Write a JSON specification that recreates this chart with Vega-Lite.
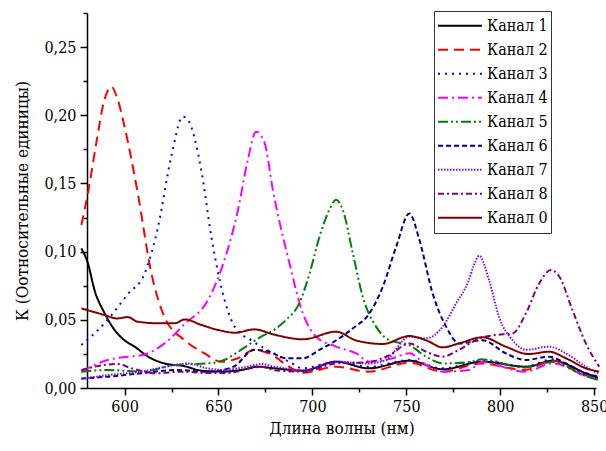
{
  "$schema": "https://vega.github.io/schema/vega-lite/v6.json",
  "width": 509,
  "height": 375,
  "autosize": {"type": "none"},
  "padding": {"left": 87, "top": 13, "right": 10, "bottom": 63},
  "background": "white",
  "config": {
    "view": {"stroke": null},
    "font": "DejaVu Serif Condensed, DejaVu Serif",
    "axis": {
      "domainColor": "black", "domainWidth": 1.5, "tickColor": "black", "tickWidth": 1.5,
      "labelFont": "DejaVu Serif Condensed, DejaVu Serif", "labelFontSize": 16, "labelColor": "black",
      "titleFont": "DejaVu Serif Condensed, DejaVu Serif", "titleFontSize": 17, "titleFontWeight": "normal", "titleColor": "black",
      "grid": false, "labelOverlap": false
    },
    "legend": {"labelFont": "DejaVu Serif Condensed, DejaVu Serif"}
  },
  "data": {"values": [
    {"s":"Канал 1","x":577,"y":0.1024},{"s":"Канал 1","x":580.5,"y":0.0914},{"s":"Канал 1","x":584,"y":0.0718},{"s":"Канал 1","x":589.4,"y":0.0548},{"s":"Канал 1","x":594.7,"y":0.0425},{"s":"Канал 1","x":600,"y":0.035},{"s":"Канал 1","x":605.4,"y":0.0303},{"s":"Канал 1","x":612.5,"y":0.023},{"s":"Канал 1","x":621.3,"y":0.018},{"s":"Канал 1","x":632,"y":0.016},{"s":"Канал 1","x":641,"y":0.0127},{"s":"Канал 1","x":651.5,"y":0.012},{"s":"Канал 1","x":662,"y":0.0132},{"s":"Канал 1","x":671,"y":0.0156},{"s":"Канал 1","x":680,"y":0.0144},{"s":"Канал 1","x":695,"y":0.0127},{"s":"Канал 1","x":712.7,"y":0.0193},{"s":"Канал 1","x":730,"y":0.0144},{"s":"Канал 1","x":751.6,"y":0.02},{"s":"Канал 1","x":769.4,"y":0.0137},{"s":"Канал 1","x":790.6,"y":0.0193},{"s":"Канал 1","x":813.7,"y":0.0156},{"s":"Канал 1","x":828,"y":0.02},{"s":"Канал 1","x":845.6,"y":0.0108},{"s":"Канал 1","x":852,"y":0.0075},
    {"s":"Канал 2","x":577,"y":0.1195},{"s":"Канал 2","x":580.5,"y":0.143},{"s":"Канал 2","x":585,"y":0.18},{"s":"Канал 2","x":589,"y":0.21},{"s":"Канал 2","x":593,"y":0.221},{"s":"Канал 2","x":596,"y":0.213},{"s":"Канал 2","x":600,"y":0.1916},{"s":"Канал 2","x":607,"y":0.143},{"s":"Канал 2","x":614.3,"y":0.084},{"s":"Канал 2","x":621.3,"y":0.052},{"s":"Канал 2","x":632,"y":0.035},{"s":"Канал 2","x":642.6,"y":0.0254},{"s":"Канал 2","x":651.5,"y":0.0193},{"s":"Канал 2","x":660.3,"y":0.0218},{"s":"Канал 2","x":669,"y":0.0279},{"s":"Канал 2","x":680,"y":0.023},{"s":"Канал 2","x":686,"y":0.017},{"s":"Канал 2","x":695,"y":0.0112},{"s":"Канал 2","x":712.7,"y":0.0156},{"s":"Канал 2","x":730,"y":0.012},{"s":"Канал 2","x":751.6,"y":0.0186},{"s":"Канал 2","x":769.4,"y":0.012},{"s":"Канал 2","x":790,"y":0.018},{"s":"Канал 2","x":813,"y":0.0132},{"s":"Канал 2","x":828,"y":0.02},{"s":"Канал 2","x":845,"y":0.0095},{"s":"Канал 2","x":852,"y":0.007},
    {"s":"Канал 3","x":577,"y":0.0315},{"s":"Канал 3","x":591,"y":0.05},{"s":"Канал 3","x":601.8,"y":0.069},{"s":"Канал 3","x":610.7,"y":0.084},{"s":"Канал 3","x":617.8,"y":0.118},{"s":"Канал 3","x":624.9,"y":0.17},{"s":"Канал 3","x":631,"y":0.199},{"s":"Канал 3","x":634,"y":0.196},{"s":"Канал 3","x":640.8,"y":0.16},{"s":"Канал 3","x":646.2,"y":0.111},{"s":"Канал 3","x":651.5,"y":0.074},{"s":"Канал 3","x":658.6,"y":0.045},{"s":"Канал 3","x":667.4,"y":0.035},{"s":"Канал 3","x":674.5,"y":0.029},{"s":"Канал 3","x":680,"y":0.025},{"s":"Канал 3","x":688,"y":0.019},{"s":"Канал 3","x":695,"y":0.0144},{"s":"Канал 3","x":712.7,"y":0.0193},{"s":"Канал 3","x":730,"y":0.0156},{"s":"Канал 3","x":751.6,"y":0.0205},{"s":"Канал 3","x":769,"y":0.0144},{"s":"Канал 3","x":791,"y":0.02},{"s":"Канал 3","x":813,"y":0.0156},{"s":"Канал 3","x":828,"y":0.021},{"s":"Канал 3","x":845,"y":0.01},{"s":"Канал 3","x":852,"y":0.007},
    {"s":"Канал 4","x":577,"y":0.012},{"s":"Канал 4","x":591,"y":0.0205},{"s":"Канал 4","x":601.8,"y":0.023},{"s":"Канал 4","x":609,"y":0.024},{"s":"Канал 4","x":621.3,"y":0.0327},{"s":"Канал 4","x":632,"y":0.047},{"s":"Канал 4","x":644.4,"y":0.0645},{"s":"Канал 4","x":653.2,"y":0.094},{"s":"Канал 4","x":660.3,"y":0.13},{"s":"Канал 4","x":665.6,"y":0.167},{"s":"Канал 4","x":670,"y":0.188},{"s":"Канал 4","x":674.5,"y":0.18},{"s":"Канал 4","x":679,"y":0.145},{"s":"Канал 4","x":687.8,"y":0.0914},{"s":"Канал 4","x":694.9,"y":0.0548},{"s":"Канал 4","x":702,"y":0.0376},{"s":"Канал 4","x":712.7,"y":0.0303},{"s":"Канал 4","x":723.3,"y":0.0254},{"s":"Канал 4","x":730.4,"y":0.0193},{"s":"Канал 4","x":742.8,"y":0.0218},{"s":"Канал 4","x":751.6,"y":0.0254},{"s":"Канал 4","x":760.5,"y":0.0169},{"s":"Канал 4","x":769.4,"y":0.012},{"s":"Канал 4","x":783.6,"y":0.0132},{"s":"Канал 4","x":790,"y":0.019},{"s":"Канал 4","x":813,"y":0.012},{"s":"Канал 4","x":828,"y":0.018},{"s":"Канал 4","x":845,"y":0.009},{"s":"Канал 4","x":852,"y":0.006},
    {"s":"Канал 5","x":577,"y":0.012},{"s":"Канал 5","x":591,"y":0.0132},{"s":"Канал 5","x":609,"y":0.012},{"s":"Канал 5","x":627,"y":0.0169},{"s":"Канал 5","x":644,"y":0.018},{"s":"Канал 5","x":653,"y":0.0205},{"s":"Канал 5","x":662,"y":0.028},{"s":"Канал 5","x":672.7,"y":0.0376},{"s":"Канал 5","x":680,"y":0.043},{"s":"Канал 5","x":686,"y":0.05},{"s":"Канал 5","x":693,"y":0.062},{"s":"Канал 5","x":698.5,"y":0.084},{"s":"Канал 5","x":703.8,"y":0.111},{"s":"Канал 5","x":709,"y":0.1305},{"s":"Канал 5","x":712.7,"y":0.138},{"s":"Канал 5","x":716.2,"y":0.1305},{"s":"Канал 5","x":721.5,"y":0.099},{"s":"Канал 5","x":726.8,"y":0.067},{"s":"Канал 5","x":733.9,"y":0.045},{"s":"Канал 5","x":741,"y":0.035},{"s":"Канал 5","x":751.6,"y":0.0315},{"s":"Канал 5","x":760.5,"y":0.023},{"s":"Канал 5","x":769.4,"y":0.018},{"s":"Канал 5","x":783.6,"y":0.019},{"s":"Канал 5","x":790,"y":0.021},{"s":"Канал 5","x":813,"y":0.015},{"s":"Канал 5","x":828,"y":0.019},{"s":"Канал 5","x":845,"y":0.009},{"s":"Канал 5","x":852,"y":0.006},
    {"s":"Канал 6","x":577,"y":0.007},{"s":"Канал 6","x":591,"y":0.0083},{"s":"Канал 6","x":609,"y":0.0108},{"s":"Канал 6","x":627,"y":0.0132},{"s":"Канал 6","x":644,"y":0.012},{"s":"Канал 6","x":658,"y":0.0156},{"s":"Канал 6","x":669,"y":0.028},{"s":"Канал 6","x":677,"y":0.0266},{"s":"Канал 6","x":686,"y":0.0218},{"s":"Канал 6","x":695,"y":0.0218},{"s":"Канал 6","x":703.8,"y":0.028},{"s":"Канал 6","x":712.7,"y":0.035},{"s":"Канал 6","x":721.5,"y":0.0437},{"s":"Канал 6","x":730.4,"y":0.0548},{"s":"Канал 6","x":737.5,"y":0.0743},{"s":"Канал 6","x":744.6,"y":0.1036},{"s":"Канал 6","x":751.6,"y":0.128},{"s":"Канал 6","x":757,"y":0.1085},{"s":"Канал 6","x":764,"y":0.0694},{"s":"Канал 6","x":771.2,"y":0.045},{"s":"Канал 6","x":778.2,"y":0.0327},{"s":"Канал 6","x":790.6,"y":0.035},{"s":"Канал 6","x":803,"y":0.0254},{"s":"Канал 6","x":813.7,"y":0.0205},{"s":"Канал 6","x":826,"y":0.023},{"s":"Канал 6","x":835,"y":0.018},{"s":"Канал 6","x":845.6,"y":0.0108},{"s":"Канал 6","x":852.7,"y":0.0083},
    {"s":"Канал 7","x":577,"y":0.0066},{"s":"Канал 7","x":591,"y":0.0095},{"s":"Канал 7","x":609,"y":0.012},{"s":"Канал 7","x":627,"y":0.0169},{"s":"Канал 7","x":634,"y":0.018},{"s":"Канал 7","x":644,"y":0.0144},{"s":"Канал 7","x":653,"y":0.0132},{"s":"Канал 7","x":665,"y":0.0156},{"s":"Канал 7","x":673,"y":0.0176},{"s":"Канал 7","x":680,"y":0.0156},{"s":"Канал 7","x":695,"y":0.013},{"s":"Канал 7","x":712.7,"y":0.0193},{"s":"Канал 7","x":730,"y":0.018},{"s":"Канал 7","x":739,"y":0.0205},{"s":"Канал 7","x":751.6,"y":0.0376},{"s":"Канал 7","x":760.5,"y":0.0364},{"s":"Канал 7","x":769.4,"y":0.045},{"s":"Канал 7","x":776.5,"y":0.062},{"s":"Канал 7","x":783,"y":0.078},{"s":"Канал 7","x":786,"y":0.09},{"s":"Канал 7","x":788.8,"y":0.097},{"s":"Канал 7","x":794.1,"y":0.079},{"s":"Канал 7","x":799.4,"y":0.052},{"s":"Канал 7","x":806.6,"y":0.035},{"s":"Канал 7","x":813.7,"y":0.028},{"s":"Канал 7","x":826,"y":0.0303},{"s":"Канал 7","x":835,"y":0.0254},{"s":"Канал 7","x":845.6,"y":0.0156},{"s":"Канал 7","x":852,"y":0.0108},
    {"s":"Канал 8","x":577,"y":0.0132},{"s":"Канал 8","x":584,"y":0.0156},{"s":"Канал 8","x":596,"y":0.0176},{"s":"Канал 8","x":604,"y":0.0144},{"s":"Канал 8","x":617,"y":0.0108},{"s":"Канал 8","x":630,"y":0.012},{"s":"Канал 8","x":644,"y":0.011},{"s":"Канал 8","x":655,"y":0.011},{"s":"Канал 8","x":667,"y":0.0144},{"s":"Канал 8","x":673,"y":0.0156},{"s":"Канал 8","x":680,"y":0.013},{"s":"Канал 8","x":695,"y":0.012},{"s":"Канал 8","x":712.7,"y":0.018},{"s":"Канал 8","x":730,"y":0.019},{"s":"Канал 8","x":741,"y":0.024},{"s":"Канал 8","x":751.6,"y":0.0327},{"s":"Канал 8","x":760.5,"y":0.0266},{"s":"Канал 8","x":769.4,"y":0.023},{"s":"Канал 8","x":778,"y":0.028},{"s":"Канал 8","x":789,"y":0.0364},{"s":"Канал 8","x":797.8,"y":0.0389},{"s":"Канал 8","x":806.6,"y":0.04},{"s":"Канал 8","x":813.7,"y":0.0548},{"s":"Канал 8","x":820.8,"y":0.0768},{"s":"Канал 8","x":827,"y":0.0865},{"s":"Канал 8","x":831.5,"y":0.0816},{"s":"Канал 8","x":838.5,"y":0.057},{"s":"Канал 8","x":845.6,"y":0.0327},{"s":"Канал 8","x":852.7,"y":0.0156},
    {"s":"Канал 0","x":577,"y":0.0584},{"s":"Канал 0","x":589.4,"y":0.0535},{"s":"Канал 0","x":596,"y":0.051},{"s":"Канал 0","x":601.7,"y":0.052},{"s":"Канал 0","x":607,"y":0.0486},{"s":"Канал 0","x":619.5,"y":0.0474},{"s":"Канал 0","x":626.6,"y":0.0474},{"s":"Канал 0","x":632,"y":0.0503},{"s":"Канал 0","x":641,"y":0.0462},{"s":"Канал 0","x":650,"y":0.0425},{"s":"Канал 0","x":659,"y":0.0405},{"s":"Канал 0","x":669,"y":0.043},{"s":"Канал 0","x":680,"y":0.039},{"s":"Канал 0","x":695,"y":0.0357},{"s":"Канал 0","x":712.7,"y":0.0413},{"s":"Канал 0","x":723,"y":0.035},{"s":"Канал 0","x":737.5,"y":0.0323},{"s":"Канал 0","x":751.6,"y":0.0381},{"s":"Канал 0","x":760.5,"y":0.035},{"s":"Канал 0","x":769.4,"y":0.0298},{"s":"Канал 0","x":778,"y":0.0327},{"s":"Канал 0","x":790.6,"y":0.0372},{"s":"Канал 0","x":803,"y":0.0303},{"s":"Канал 0","x":815,"y":0.0249},{"s":"Канал 0","x":826,"y":0.0266},{"s":"Канал 0","x":835,"y":0.0218},{"s":"Канал 0","x":845.6,"y":0.0144},{"s":"Канал 0","x":852.7,"y":0.012}
  ]},
  "mark": {"type": "line", "strokeWidth": 2, "interpolate": "monotone", "clip": false},
  "encoding": {
    "x": {
      "field": "x", "type": "quantitative",
      "scale": {"domain": [580, 851], "nice": false, "zero": false},
      "axis": {
        "title": "Длина волны (нм)",
        "values": [600, 625, 650, 675, 700, 725, 750, 775, 800, 825, 850],
        "labelExpr": "datum.value % 50 === 0 ? datum.label : ''",
        "tickSize": {"condition": {"test": "datum.value % 50 === 0", "value": 7}, "value": 4},
        "labelPadding": 3, "titlePadding": 6
      }
    },
    "y": {
      "field": "y", "type": "quantitative",
      "scale": {"domain": [0, 0.275], "nice": false},
      "axis": {
        "title": "К (Оотносительные единицы)",
        "values": [0, 0.025, 0.05, 0.075, 0.1, 0.125, 0.15, 0.175, 0.2, 0.225, 0.25, 0.275],
        "labelExpr": "round(datum.value * 1000) % 50 === 0 ? replace(format(datum.value, '.2f'), '.', ',') : ''",
        "tickSize": {"condition": {"test": "round(datum.value * 1000) % 50 === 0", "value": 7}, "value": 4},
        "labelPadding": 4, "titlePadding": 12
      }
    },
    "color": {
      "field": "s", "type": "nominal", "title": null,
      "scale": {
        "domain": ["Канал 1", "Канал 2", "Канал 3", "Канал 4", "Канал 5", "Канал 6", "Канал 7", "Канал 8", "Канал 0"],
        "range": ["#000000", "#ff0000", "#0000ff", "#ff00ff", "#008000", "#000080", "#8000ff", "#800080", "#800000"]
      },
      "legend": {
        "orient": "none", "legendX": 347, "legendY": -2,
        "symbolType": "stroke", "symbolSize": 1936, "symbolStrokeWidth": 2,
        "clipHeight": 23.3, "rowPadding": 0, "padding": 3,
        "labelFont": "DejaVu Serif Condensed, DejaVu Serif", "labelFontSize": 16, "labelColor": "black", "labelOffset": 4,
        "strokeColor": "#333333", "fillColor": "white"
      }
    },
    "strokeDash": {
      "field": "s", "type": "nominal", "title": null,
      "scale": {
        "domain": ["Канал 1", "Канал 2", "Канал 3", "Канал 4", "Канал 5", "Канал 6", "Канал 7", "Канал 8", "Канал 0"],
        "range": [[1, 0], [10, 6], [2, 5], [10, 4, 2, 4], [10, 3, 2, 3, 2, 3], [5, 3], [1.5, 1.5], [6, 3, 2, 3], [1, 0]]
      }
    }
  }
}
